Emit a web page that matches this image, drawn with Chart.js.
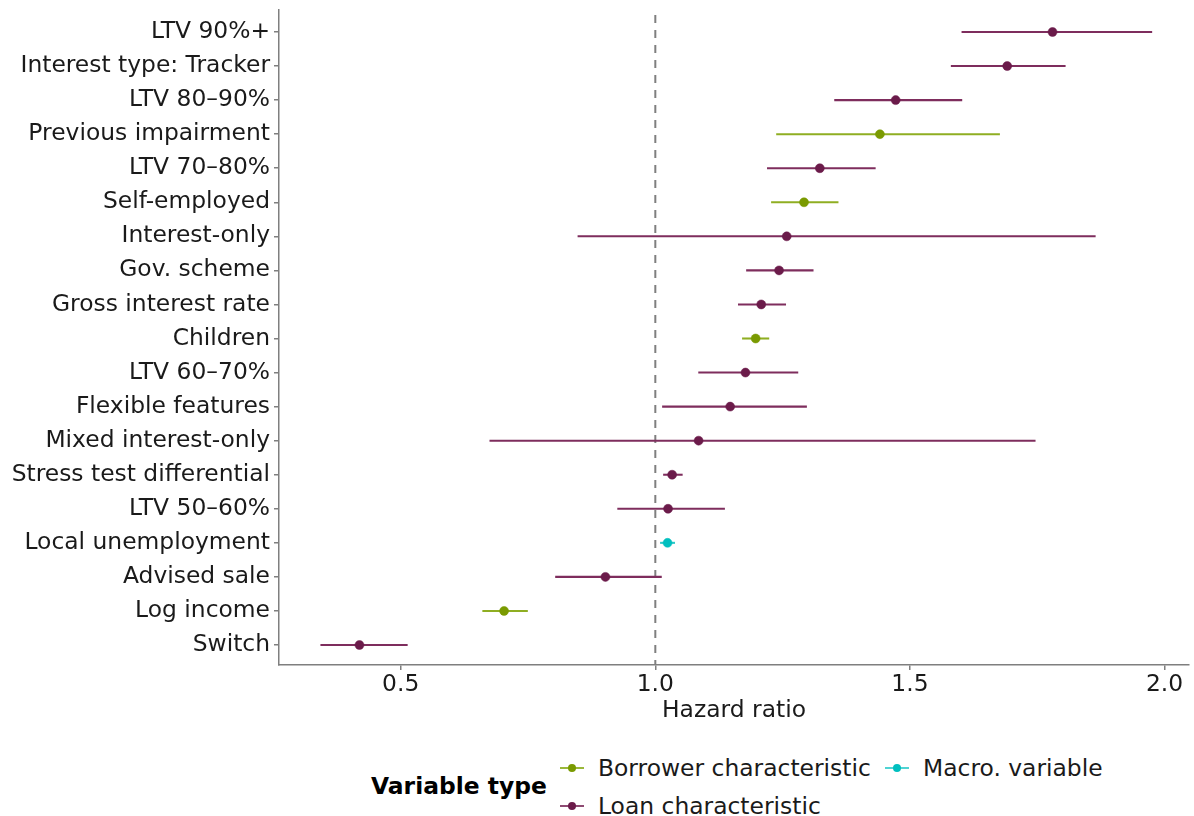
<!DOCTYPE html>
<html>
<head>
<meta charset="utf-8">
<script src="https://cdn.jsdelivr.net/npm/chart.js@4.4.0/dist/chart.umd.min.js"></script>
<style>
  body { margin: 0; background: #fff; font-family: "DejaVu Sans", sans-serif; }
  #wrap { position: relative; width: 1194px; height: 816px; }
  #chart { position: absolute; left: 0; top: 0; }
  .legend-title { position: absolute; left: 371px; top: 772px; font-size: 23.4px; font-weight: bold; color: #000; }
  .item { position: absolute; font-size: 23.4px; color: #1a1a1a; display: flex; align-items: center; height: 28px; }
  .key { position: relative; width: 24px; height: 10px; margin-right: 14px; }
  .key .ln { position: absolute; left: 0; right: 0; top: 4px; height: 2px; }
  .key .dot { position: absolute; left: 8px; top: 1px; width: 8px; height: 8px; border-radius: 50%; }
</style>
</head>
<body>
<div id="wrap">
  <canvas id="chart" width="1194" height="730"></canvas>
  <div class="legend-title">Variable type</div>
  <div class="item" style="left:560px;top:754px"><span class="key"><span class="ln" style="background:#9ab83a"></span><span class="dot" style="background:#7a9a01"></span></span>Borrower characteristic</div>
  <div class="item" style="left:885px;top:754px"><span class="key"><span class="ln" style="background:#4fd3d3"></span><span class="dot" style="background:#00bfbf"></span></span>Macro. variable</div>
  <div class="item" style="left:560px;top:792px"><span class="key"><span class="ln" style="background:#8e4a72"></span><span class="dot" style="background:#6b1b4a"></span></span>Loan characteristic</div>
</div>
<script>
// Rows, top to bottom
const labels = ["LTV 90%+", "Interest type: Tracker", "LTV 80–90%", "Previous impairment", "LTV 70–80%",
  "Self-employed", "Interest-only", "Gov. scheme", "Gross interest rate", "Children", "LTV 60–70%",
  "Flexible features", "Mixed interest-only", "Stress test differential", "LTV 50–60%",
  "Local unemployment", "Advised sale", "Log income", "Switch"];
const groups = ["Loan", "Loan", "Loan", "Borrower", "Loan", "Borrower", "Loan", "Loan", "Loan", "Borrower",
  "Loan", "Loan", "Loan", "Loan", "Loan", "Macro", "Loan", "Borrower", "Loan"];
const estimate = [1.780, 1.691, 1.472, 1.441, 1.323, 1.292, 1.258, 1.243, 1.208, 1.197, 1.177,
  1.147, 1.085, 1.033, 1.025, 1.024, 0.902, 0.703, 0.419];
const lower = [1.602, 1.581, 1.352, 1.238, 1.220, 1.228, 0.848, 1.179, 1.163, 1.171, 1.085,
  1.014, 0.675, 1.016, 0.926, 1.010, 0.804, 0.661, 0.343];
const upper = [1.975, 1.805, 1.602, 1.676, 1.432, 1.359, 1.864, 1.310, 1.256, 1.223, 1.280,
  1.297, 1.746, 1.053, 1.136, 1.038, 1.012, 0.749, 0.513];
const xTicks = [0.5, 1.0, 1.5, 2.0];
const refLine = 1.0;

const pointColors = { Borrower: "#7a9a01", Loan: "#6b1b4a", Macro: "#00bfbf" };
const lineColors = { Borrower: "#8fae22", Loan: "#7e2d5d", Macro: "#2cc8c8" };

const yMin = -0.646, yMax = 18.587;
const fontSize = 23.4;

const ctx = document.getElementById("chart").getContext("2d");
new Chart(ctx, {
  type: "bar",
  data: {
    datasets: [
      {
        type: "line",
        data: [{ x: refLine, y: yMin + 0.15 }, { x: refLine, y: yMax }],
        borderColor: "#7f7f7f",
        borderWidth: 2,
        borderDash: [8, 7],
        pointRadius: 0,
        order: 3
      },
      {
        type: "bar",
        data: labels.map((_, i) => ({ x: [lower[i], upper[i]], y: i })),
        backgroundColor: groups.map(g => lineColors[g]),
        borderWidth: 0,
        barThickness: 1.4,
        order: 2
      },
      {
        type: "scatter",
        data: labels.map((_, i) => ({ x: estimate[i], y: i })),
        pointBackgroundColor: groups.map(g => pointColors[g]),
        pointBorderColor: groups.map(g => pointColors[g]),
        pointRadius: 4.5,
        pointBorderWidth: 0.5,
        order: 1
      }
    ]
  },
  options: {
    indexAxis: "y",
    responsive: false,
    animation: false,
    layout: { padding: { top: 10, right: 2, left: 0, bottom: 0 } },
    plugins: { legend: { display: false }, tooltip: { enabled: false } },
    scales: {
      x: {
        type: "linear",
        min: 0.261,
        max: 2.048,
        offset: false,
        afterBuildTicks: s => { s.ticks = xTicks.map(v => ({ value: v })); },
        afterFit: s => { s.height = 65; s.paddingLeft = 0; s.paddingRight = 0; },
        ticks: {
          callback: v => v.toFixed(1),
          color: "#1a1a1a",
          font: { family: "DejaVu Sans", size: fontSize },
          padding: 1,
          maxRotation: 0
        },
        grid: { offset: false, drawOnChartArea: false, drawTicks: true, tickLength: 5, color: "#7f7f7f", lineWidth: 1.5 },
        border: { color: "#7f7f7f", width: 1.5 },
        title: {
          display: true,
          text: "Hazard ratio",
          color: "#1a1a1a",
          font: { family: "DejaVu Sans", size: fontSize },
          padding: { top: 0, bottom: 5 }
        }
      },
      y: {
        type: "linear",
        reverse: true,
        min: yMin,
        max: yMax,
        offset: false,
        afterBuildTicks: s => { s.ticks = labels.map((_, i) => ({ value: i })); },
        afterFit: s => { s.width = 279; s.paddingTop = 0; s.paddingBottom = 0; },
        ticks: {
          callback: v => labels[v],
          autoSkip: false,
          color: "#1a1a1a",
          font: { family: "DejaVu Sans", size: fontSize },
          padding: 4
        },
        grid: { offset: false, drawOnChartArea: false, drawTicks: true, tickLength: 5, color: "#7f7f7f", lineWidth: 1.5 },
        border: { color: "#7f7f7f", width: 1.5 }
      }
    }
  }
});
</script>
</body>
</html>
